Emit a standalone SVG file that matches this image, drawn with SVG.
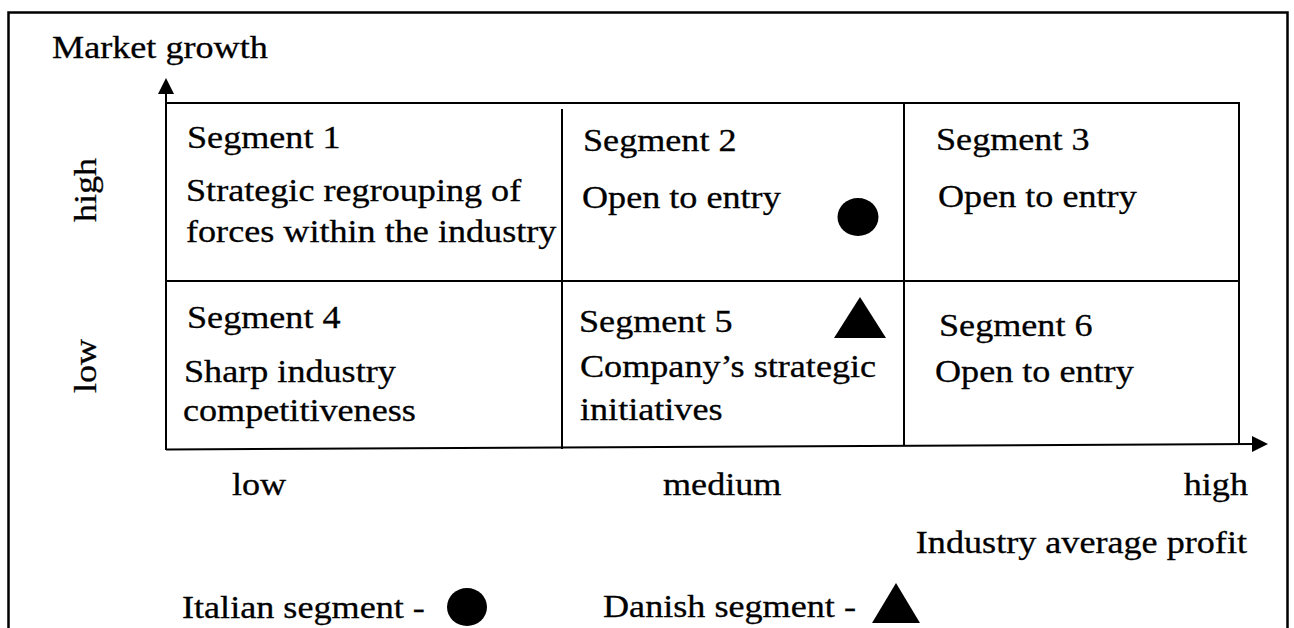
<svg xmlns="http://www.w3.org/2000/svg" width="1294" height="628" viewBox="0 0 1294 628">
  <style>
    text { font-family: "Liberation Serif", "Times New Roman", serif; font-size: 32px; fill: #000; stroke: #000; stroke-width: 0.3; }
    .ln { stroke: #000; stroke-width: 2; fill: none; }
    .frame { stroke: #000; stroke-width: 2.5; fill: none; }
    .mk { fill: #000; }
  </style>
  <defs>
    <marker id="arr" viewBox="0 0 16 16" refX="1" refY="8" markerWidth="16" markerHeight="16" markerUnits="userSpaceOnUse" orient="auto">
      <path d="M0,0 L16,8 L0,16 Z" fill="#000"/>
    </marker>
  </defs>
  <rect width="1294" height="628" fill="#fff"/>
  <rect class="frame" x="8.5" y="12.5" width="1279" height="700"/>

  <g id="connectors">
    <line class="ln" x1="166" y1="450" x2="166" y2="93" marker-end="url(#arr)"/>
    <line class="ln" x1="166" y1="449.5" x2="1253" y2="444" marker-end="url(#arr)"/>
    <line class="ln" x1="166" y1="103" x2="1240" y2="103"/>
    <line class="ln" x1="166" y1="281" x2="1240" y2="281"/>
    <line class="ln" x1="562" y1="109" x2="562" y2="449"/>
    <line class="ln" x1="904" y1="103" x2="904" y2="446"/>
    <line class="ln" x1="1239" y1="103" x2="1239" y2="445"/>
  </g>

  <g id="axis-labels">
    <text transform="translate(52,58) scale(1.13,1)">Market growth</text>
    <text transform="translate(96,190) rotate(-90) scale(1.13,1)" text-anchor="middle">high</text>
    <text transform="translate(96,366) rotate(-90) scale(1.13,1)" text-anchor="middle">low</text>
    <text transform="translate(232,495) scale(1.13,1)">low</text>
    <text transform="translate(663,495) scale(1.13,1)">medium</text>
    <text transform="translate(1248,495) scale(1.13,1)" text-anchor="end">high</text>
    <text transform="translate(1247,553) scale(1.13,1)" text-anchor="end">Industry average profit</text>
  </g>

  <g id="segment1">
    <text transform="translate(187,148) scale(1.13,1)">Segment 1</text>
    <text transform="translate(186,201) scale(1.13,1)">Strategic regrouping of</text>
    <text transform="translate(186,242) scale(1.13,1)">forces within the industry</text>
  </g>
  <g id="segment2">
    <text transform="translate(583,151) scale(1.13,1)">Segment 2</text>
    <text transform="translate(582,208) scale(1.13,1)">Open to entry</text>
    <ellipse class="mk" cx="858" cy="217" rx="20.5" ry="19"/>
  </g>
  <g id="segment3">
    <text transform="translate(936,150) scale(1.13,1)">Segment 3</text>
    <text transform="translate(938,207) scale(1.13,1)">Open to entry</text>
  </g>
  <g id="segment4">
    <text transform="translate(187,328) scale(1.13,1)">Segment 4</text>
    <text transform="translate(184,382) scale(1.13,1)">Sharp industry</text>
    <text transform="translate(183,421) scale(1.13,1)">competitiveness</text>
  </g>
  <g id="segment5">
    <text transform="translate(579,332) scale(1.13,1)">Segment 5</text>
    <text transform="translate(580,377) scale(1.13,1)">Company’s strategic</text>
    <text transform="translate(580,420) scale(1.13,1)">initiatives</text>
    <polygon class="mk" points="860,297 834,338 886,338"/>
  </g>
  <g id="segment6">
    <text transform="translate(939,336) scale(1.13,1)">Segment 6</text>
    <text transform="translate(935,382) scale(1.13,1)">Open to entry</text>
  </g>

  <g id="legend">
    <text transform="translate(182,618) scale(1.13,1)">Italian segment -</text>
    <ellipse class="mk" cx="467" cy="607" rx="20" ry="19"/>
    <text transform="translate(603,617) scale(1.13,1)">Danish segment -</text>
    <polygon class="mk" points="896,583 872,623 920,623"/>
  </g>
</svg>
